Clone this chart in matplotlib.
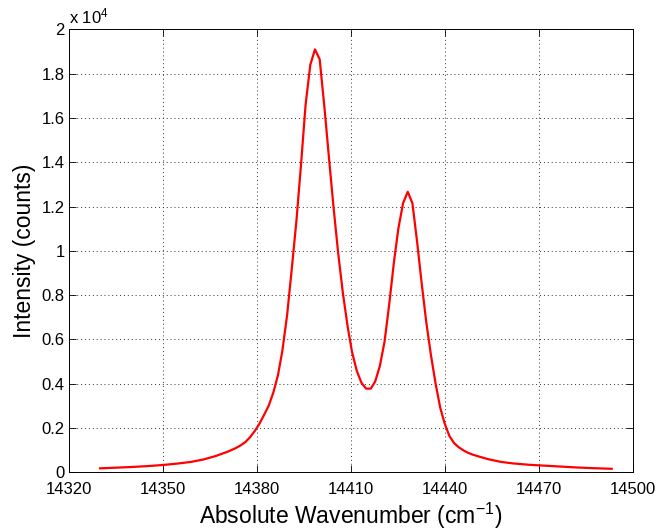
import matplotlib
matplotlib.use("Agg")
import matplotlib.pyplot as plt
from matplotlib.ticker import FuncFormatter

plt.rcParams['font.family'] = ['Liberation Sans', 'DejaVu Sans']
plt.rcParams['mathtext.fontset'] = 'custom'
plt.rcParams['mathtext.rm'] = 'Liberation Sans'
plt.rcParams['mathtext.it'] = 'Liberation Sans'

wavenumber = [14330, 14335, 14340, 14345, 14350, 14355, 14359, 14363, 14367,
              14370.5, 14372.0, 14373.4, 14374.9, 14376.4, 14377.9, 14379.4,
              14380.8, 14382.3, 14383.8, 14385.3, 14386.8, 14388.2, 14389.7,
              14391.2, 14392.7, 14394.2, 14395.6, 14397.1, 14398.6, 14400.1,
              14401.6, 14403.0, 14404.5, 14406.0, 14407.5, 14409.0, 14410.4,
              14411.9, 14413.4, 14414.9, 14416.4, 14417.8, 14419.3, 14420.8,
              14422.3, 14423.8, 14425.2, 14426.7, 14428.2, 14429.7, 14431.2,
              14432.6, 14434.1, 14435.6, 14437.1, 14438.6, 14440.0, 14441.5,
              14443.0, 14444.5, 14446.0, 14447.4, 14448.9, 14451, 14454, 14458,
              14462, 14467, 14472, 14477, 14482, 14487, 14493.3]
intensity = [180, 210, 240, 280, 330, 400, 470, 580, 740,
             920, 1010, 1100, 1220, 1370, 1590, 1870,
             2180, 2580, 3000, 3600, 4400, 5500, 7100,
             9200, 11400, 14000, 16600, 18400, 19100, 18650,
             16500, 14300, 12000, 9900, 8100, 6600, 5450,
             4600, 4050, 3780, 3780, 4100, 4800, 5900,
             7600, 9500, 11000, 12150, 12670, 12150, 10400,
             8600, 6800, 5300, 4000, 2900, 2200, 1640,
             1320, 1130, 990, 885, 800, 710, 590, 470,
             400, 340, 300, 260, 220, 190, 160]

xticks = [14320, 14350, 14380, 14410, 14440, 14470, 14500]
yticks = [0, 2000, 4000, 6000, 8000, 10000, 12000, 14000, 16000, 18000, 20000]

fig = plt.figure(figsize=(6.57, 5.31), dpi=100)
ax = fig.add_axes([0.1046, 0.1105, 0.8584, 0.834])
ax.plot(wavenumber, intensity, color='#ff0000', lw=1.6)
ax.set_xlim(14320, 14500)
ax.set_ylim(0, 20000)
ax.set_xticks(xticks)
ax.set_yticks(yticks)
ax.yaxis.set_major_formatter(FuncFormatter(lambda v, p: ('%g' % (v / 1e4))))
ax.grid(True, linestyle=(0, (1, 3)), color='#333333', lw=0.7)
ax.tick_params(direction='in', length=5, width=0.6, top=True, right=True,
               labelsize=12)
ax.tick_params(axis='x', pad=7)
ax.tick_params(axis='y', pad=3)
for s in ax.spines.values():
    s.set_linewidth(0.7)
ax.set_xlabel('Absolute Wavenumber (cm$^{-1}$)', fontsize=16.5, labelpad=3)
ax.set_ylabel('Intensity (counts)', fontsize=16.5, labelpad=4)
ax.text(0.0, 1.008, 'x 10$^{4}$', transform=ax.transAxes, fontsize=12,
        ha='left', va='bottom')
fig.savefig('out.png', dpi=100)
